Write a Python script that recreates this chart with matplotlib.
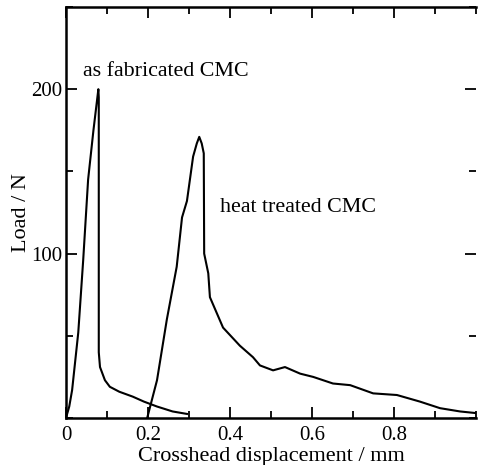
import matplotlib
matplotlib.use("Agg")
import matplotlib.pyplot as plt
from matplotlib.ticker import MultipleLocator

# as fabricated CMC (displacement mm, load N)
fab_x = [0.0, 0.008, 0.015, 0.03, 0.042, 0.054, 0.067, 0.079, 0.080, 0.080, 0.083,
         0.095, 0.107, 0.13, 0.163, 0.19, 0.222, 0.26, 0.295]
fab_y = [0.0, 7, 17, 52, 96, 145, 175, 200, 195, 40, 31,
         23, 19, 16, 13, 10, 7, 4, 2.5]

# heat treated CMC
ht_x = [0.198, 0.222, 0.246, 0.27, 0.283, 0.295, 0.31, 0.319, 0.325, 0.331,
        0.336, 0.337, 0.347, 0.351, 0.383, 0.424, 0.456, 0.473, 0.505, 0.534,
        0.571, 0.603, 0.651, 0.693, 0.749, 0.807, 0.863, 0.912, 0.961, 1.0]
ht_y = [0.0, 23, 60, 92, 122, 132, 159, 167, 171, 167,
        161, 100, 88, 73.5, 55, 44, 37, 32, 29, 31,
        27, 25, 21, 20, 15, 14, 10, 6, 4, 3]

plt.rcParams['font.family'] = ['Liberation Serif', 'DejaVu Serif']

fig = plt.figure(figsize=(4.78, 4.65), dpi=100)
ax = fig.add_axes([0.138, 0.101, 0.858, 0.884])

ax.plot(fab_x, fab_y, color='black', lw=1.5)
ax.plot(ht_x, ht_y, color='black', lw=1.5)

ax.text(0.042, 211, 'as fabricated CMC', fontsize=15.8, va='center', ha='left')
ax.text(0.376, 128, 'heat treated CMC', fontsize=15.8, va='center', ha='left')

ax.set_xlim(0, 1.0)
ax.set_ylim(0, 250)
ax.set_xticks([0, 0.2, 0.4, 0.6, 0.8])
ax.set_xticklabels(['0', '0.2', '0.4', '0.6', '0.8'])
ax.xaxis.set_minor_locator(MultipleLocator(0.1))
ax.set_yticks([100, 200])
ax.yaxis.set_minor_locator(MultipleLocator(50))

ax.tick_params(which='both', direction='in', top=True, right=True, labelsize=15, width=1.3)
ax.tick_params(which='major', length=8)
ax.tick_params(which='minor', length=5)
ax.tick_params(axis='x', pad=6)
ax.tick_params(axis='y', pad=3)

for s in ['left', 'bottom', 'top']:
    ax.spines[s].set_linewidth(1.8)
ax.spines['right'].set_visible(False)

ax.set_xlabel('Crosshead displacement / mm', fontsize=16, labelpad=1)
ax.set_ylabel('Load / N', fontsize=16, labelpad=0)

fig.savefig('out.png', dpi=100)
